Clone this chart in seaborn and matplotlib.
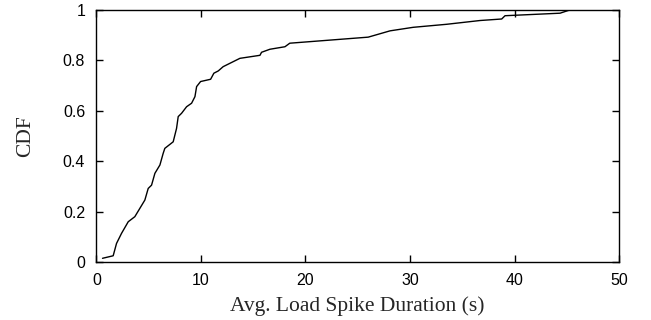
import matplotlib
matplotlib.use("Agg")
import matplotlib.pyplot as plt
import seaborn as sns
import pandas as pd

duration = [0.59, 1.61, 1.93, 2.41, 3.05, 3.68, 4.16, 4.64, 4.96, 5.28, 5.6, 6.08,
            6.39, 6.55, 7.35, 7.67, 7.83, 8.15, 8.63, 9.11, 9.43, 9.59, 9.97, 10.93,
            11.24, 11.66, 12.13, 13.73, 15.65, 15.8, 16.6, 18.04, 18.5, 26.0, 28.09,
            30.3, 33.5, 36.7, 38.77, 39.09, 44.35, 45.3]
cdf = [0.015, 0.025, 0.074, 0.114, 0.16, 0.18, 0.213, 0.246, 0.292, 0.305, 0.352, 0.385,
       0.431, 0.451, 0.477, 0.53, 0.577, 0.59, 0.616, 0.63, 0.656, 0.696, 0.716, 0.725,
       0.749, 0.758, 0.775, 0.808, 0.82, 0.832, 0.844, 0.854, 0.868, 0.892, 0.917,
       0.931, 0.943, 0.958, 0.964, 0.977, 0.987, 1.0]
xticks = [0, 10, 20, 30, 40, 50]
yticks = [0, 0.2, 0.4, 0.6, 0.8, 1]
ytick_labels = ["0", "0.2", "0.4", "0.6", "0.8", "1"]

df = pd.DataFrame({"duration": duration, "cdf": cdf})

sns.set_style("ticks")
plt.rcParams["font.family"] = ["Liberation Sans", "DejaVu Sans"]

fig = plt.figure(figsize=(6.51, 3.2), dpi=100)
ax = fig.add_axes([0.148, 0.181, 0.803, 0.788])

sns.lineplot(data=df, x="duration", y="cdf", color="black", linewidth=1.0, ax=ax)

ax.set_xlim(0, 50)
ax.set_ylim(0, 1)
ax.set_xticks(xticks)
ax.set_xticklabels([str(t) for t in xticks])
ax.set_yticks(yticks)
ax.set_yticklabels(ytick_labels)
ax.tick_params(direction="in", top=True, right=True, length=5, width=1,
               labelsize=11.5, colors="black")
ax.tick_params(axis="x", pad=8)
ax.tick_params(axis="y", pad=8)
for s in ax.spines.values():
    s.set_visible(True)
    s.set_linewidth(1.0)
    s.set_color("black")

ax.set_xlabel("Avg. Load Spike Duration (s)", family="Liberation Serif", fontsize=15.5, labelpad=6)
ax.set_ylabel("CDF", family="Liberation Serif", fontsize=15.5, labelpad=20)

fig.savefig("out.png", dpi=100)
